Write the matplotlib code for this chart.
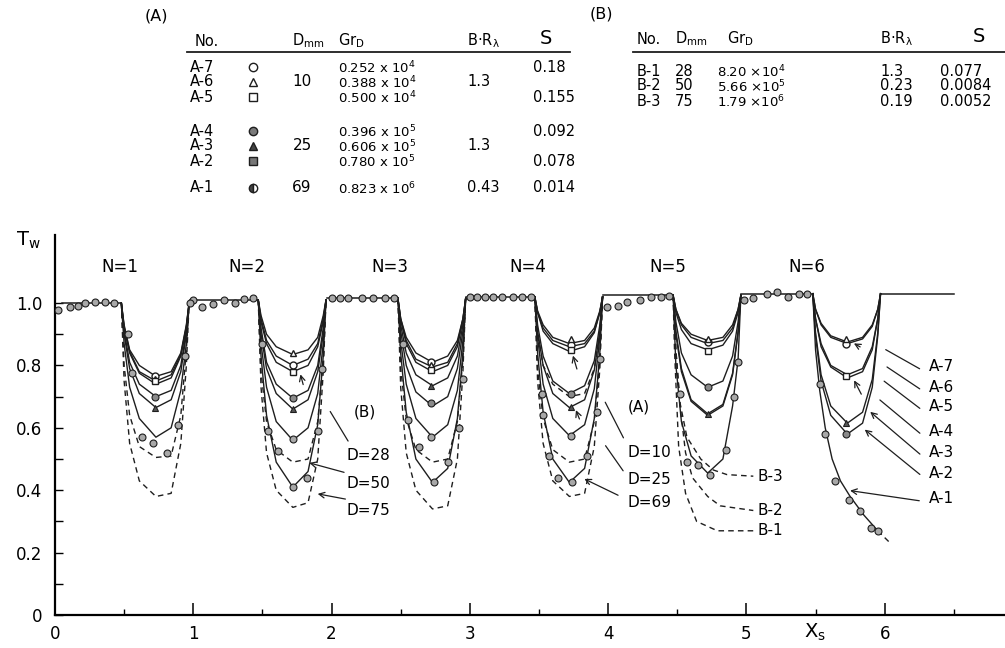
import matplotlib
matplotlib.use("Agg")
import matplotlib.pyplot as plt
from matplotlib.ticker import MultipleLocator, FixedLocator

plt.rcParams['font.family'] = ['DejaVu Sans']
plt.rcParams['mathtext.default'] = 'regular'

# Xs offsets inside each cooled half-period, and where each dip starts
dip_offset = [0.0, 0.02, 0.06, 0.13, 0.25, 0.36, 0.43, 0.47, 0.49]
dip_start = [0.48, 1.47, 2.48, 3.47, 4.47, 5.48]

# theory curves Tw along each dip (solid = series A, dashed = series B)
solid_n1 = [
    [1.0, .93, .85, .80, .765, .78, .84, .93, 1.0],
    [1.0, .925, .845, .78, .75, .77, .835, .925, 1.0],
    [1.0, .92, .84, .775, .74, .76, .83, .92, 1.0],
    [1.0, .91, .81, .74, .70, .72, .80, .91, 1.0],
    [1.0, .90, .79, .71, .665, .69, .78, .90, 1.0],
    [1.0, .87, .73, .63, .57, .60, .72, .87, 1.0],
]
dashed_n1 = [
    [1.0, .80, .64, .54, .505, .51, .64, .85, 1.0],
    [1.0, .75, .55, .43, .38, .39, .55, .80, 1.0],
]
solid_n2 = [
    [1.01, .96, .90, .86, .835, .85, .89, .96, 1.01],
    [1.01, .95, .88, .83, .80, .82, .87, .95, 1.01],
    [1.01, .94, .87, .81, .78, .80, .86, .94, 1.01],
    [1.01, .92, .81, .74, .695, .72, .80, .92, 1.01],
    [1.01, .90, .79, .71, .66, .69, .78, .90, 1.01],
    [1.01, .87, .73, .62, .56, .60, .71, .87, 1.01],
    [1.01, .83, .64, .49, .41, .46, .61, .83, 1.01],
]
dashed_n2 = [
    [1.01, .78, .62, .53, .49, .50, .62, .82, 1.01],
    [1.01, .73, .52, .40, .345, .36, .50, .78, 1.01],
]
solid_n3 = [
    [1.015, .95, .89, .84, .81, .83, .88, .95, 1.015],
    [1.015, .95, .88, .82, .795, .81, .87, .95, 1.015],
    [1.015, .945, .87, .81, .78, .80, .86, .945, 1.015],
    [1.015, .93, .84, .77, .735, .76, .83, .93, 1.015],
    [1.015, .91, .80, .715, .67, .70, .79, .91, 1.015],
    [1.015, .88, .74, .63, .57, .61, .72, .88, 1.015],
    [1.015, .84, .65, .50, .425, .47, .63, .84, 1.015],
]
dashed_n3 = [
    [1.015, .79, .63, .53, .49, .50, .62, .82, 1.015],
    [1.015, .73, .52, .40, .34, .35, .50, .78, 1.015],
]
solid_n4 = [
    [1.02, .975, .93, .89, .87, .88, .92, .975, 1.02],
    [1.02, .97, .92, .88, .86, .87, .91, .97, 1.02],
    [1.02, .97, .91, .87, .845, .86, .905, .97, 1.02],
    [1.02, .93, .83, .75, .71, .735, .815, .93, 1.02],
    [1.02, .91, .80, .71, .665, .69, .785, .91, 1.02],
    [1.02, .89, .74, .63, .575, .61, .725, .89, 1.02],
    [1.02, .84, .65, .50, .425, .47, .63, .84, 1.02],
]
dashed_n4 = [
    [1.02, .90, .80, .74, .70, .71, .79, .90, 1.02],
    [1.02, .79, .63, .53, .49, .50, .62, .82, 1.02],
    [1.02, .75, .55, .43, .38, .39, .54, .79, 1.02],
]
solid_n5 = [
    [1.025, .98, .935, .90, .88, .89, .93, .98, 1.025],
    [1.025, .98, .93, .89, .87, .88, .92, .98, 1.025],
    [1.025, .97, .915, .87, .85, .865, .91, .97, 1.025],
    [1.025, .94, .84, .77, .73, .75, .83, .94, 1.025],
    [1.025, .91, .79, .69, .645, .675, .775, .91, 1.025],
    [1.025, .90, .78, .685, .64, .67, .77, .905, 1.025],
    [1.025, .80, .62, .51, .455, .50, .67, .82, 1.025],
]
dashed_n5 = []
solid_n6 = [
    [1.03, .98, .935, .895, .875, .89, .93, .98, 1.03],
    [1.03, .98, .93, .89, .87, .885, .925, .98, 1.03],
    [1.03, .95, .87, .80, .77, .79, .86, .95, 1.03],
    [1.03, .95, .86, .795, .76, .78, .85, .95, 1.03],
    [1.03, .905, .77, .67, .615, .65, .755, .905, 1.03],
    [1.03, .895, .75, .64, .58, .615, .73, .895, 1.03],
]
dashed_n6 = []

# last runs that do not recover
a1_last_x = [5.48, 5.50, 5.53, 5.57, 5.62, 5.68, 5.75, 5.85, 5.95]
a1_last_y = [1.03, .85, .72, .60, .50, .43, .38, .32, .27]
a1_tail_x = [5.95, 6.03]
a1_tail_y = [.27, .235]
b3_x = [4.47, 4.49, 4.52, 4.57, 4.67, 4.76, 4.86, 5.05]
b3_y = [1.025, .85, .68, .57, .50, .465, .45, .445]
b2_x = [4.47, 4.49, 4.52, 4.56, 4.61, 4.72, 4.81, 5.05]
b2_y = [1.025, .85, .67, .52, .44, .38, .35, .335]
b1_x = [4.47, 4.48, 4.51, 4.56, 4.64, 4.79, 5.05]
b1_y = [1.025, .85, .54, .39, .30, .27, .27]

# uniform-wall (heated) stretches
plateau_x = [[0.05, 0.48], [0.98, 1.47], [1.97, 2.48], [2.97, 3.47],
             [3.96, 4.47], [4.96, 5.48], [5.97, 6.5]]
plateau_y = [1.0, 1.01, 1.015, 1.02, 1.025, 1.03, 1.03]

# measured points
meas_x = [0.02, 0.11, 0.17, 0.22, 0.29, 0.36, 0.43,
          1.0, 1.06, 1.14, 1.22, 1.30, 1.37, 1.43,
          2.0, 2.06, 2.12, 2.22, 2.30, 2.39, 2.45,
          3.0, 3.05, 3.11, 3.17, 3.23, 3.31, 3.38, 3.44,
          3.99, 4.07, 4.14, 4.23, 4.31, 4.38, 4.44,
          4.98, 5.05, 5.15, 5.22, 5.30, 5.38, 5.44,
          0.53, 0.56, 0.63, 0.71, 0.81, 0.89, 0.94, 0.98,
          1.50, 1.54, 1.61, 1.72, 1.72, 1.82, 1.90, 1.93,
          2.52, 2.55, 2.63, 2.72, 2.74, 2.84, 2.92, 2.95,
          3.52, 3.53, 3.57, 3.64, 3.73, 3.74, 3.85, 3.92, 3.94,
          4.52, 4.57, 4.65, 4.74, 4.85, 4.91, 4.94,
          5.53, 5.57, 5.64, 5.74, 5.82, 5.90, 5.95]
meas_y = [0.977, 0.987, 0.99, 1.0, 1.003, 1.003, 1.0,
          1.01, 0.987, 0.997, 1.01, 1.0, 1.013, 1.016,
          1.016, 1.016, 1.016, 1.016, 1.016, 1.016, 1.016,
          1.02, 1.02, 1.02, 1.02, 1.02, 1.02, 1.02, 1.02,
          0.987, 0.99, 1.003, 1.01, 1.02, 1.02, 1.022,
          1.01, 1.016, 1.03, 1.035, 1.02, 1.03, 1.03,
          0.90, 0.775, 0.57, 0.55, 0.52, 0.61, 0.83, 1.0,
          0.87, 0.59, 0.525, 0.565, 0.41, 0.44, 0.59, 0.79,
          0.87, 0.625, 0.54, 0.57, 0.425, 0.49, 0.60, 0.755,
          0.71, 0.64, 0.51, 0.44, 0.575, 0.425, 0.51, 0.65, 0.82,
          0.71, 0.49, 0.48, 0.45, 0.53, 0.70, 0.81,
          0.74, 0.58, 0.43, 0.37, 0.335, 0.28, 0.27]
mark_x = [0.72, 1.72, 2.72, 3.73, 4.72, 5.72]
open_circle_y = [0.765, 0.80, 0.81, 0.865, 0.875, 0.87]
open_tri_y = [0.755, 0.84, 0.80, 0.885, 0.885, 0.885]
open_sq_y = [0.75, 0.78, 0.785, 0.85, 0.845, 0.765]
dot_circle_y = [0.70, 0.695, 0.68, 0.71, 0.73, 0.58]
full_tri_y = [0.665, 0.66, 0.735, 0.667, 0.645, 0.615]

n_labels = ['N=1', 'N=2', 'N=3', 'N=4', 'N=5', 'N=6']
n_label_x = [0.47, 1.39, 2.42, 3.42, 4.43, 5.44]
y_ticks = [0, 0.2, 0.4, 0.6, 0.8, 1.0]
y_tick_labels = ['0', '0.2', '0.4', '0.6', '0.8', '1.0']

# table (A)
a_no = ['A-7', 'A-6', 'A-5', 'A-4', 'A-3', 'A-2', 'A-1']
a_gr = ['0.252 x 10$^4$', '0.388 x 10$^4$', '0.500 x 10$^4$',
        '0.396 x 10$^5$', '0.606 x 10$^5$', '0.780 x 10$^5$', '0.823 x 10$^6$']
a_d = ['', '10', '', '', '25', '', '69']
a_br = ['', '1.3', '', '', '1.3', '', '0.43']
a_s = ['0.18', '', '0.155', '0.092', '', '0.078', '0.014']
# table (B)
b_no = ['B-1', 'B-2', 'B-3']
b_d = ['28', '50', '75']
b_gr = ['8.20 ×10$^4$', '5.66 ×10$^5$', '1.79 ×10$^6$']
b_br = ['1.3', '0.23', '0.19']
b_s = ['0.077', '0.0084', '0.0052']

ink = '#1e1e1e'
fig = plt.figure(figsize=(10.05, 6.48), dpi=100)
ax = fig.add_axes([0.0547, 0.0509, 0.9453, 0.5864])

for x0, x1 in zip(plateau_x, plateau_y):
    ax.plot(x0, [x1, x1], color=ink, lw=1.1)

solids = [solid_n1, solid_n2, solid_n3, solid_n4, solid_n5, solid_n6]
dasheds = [dashed_n1, dashed_n2, dashed_n3, dashed_n4, dashed_n5, dashed_n6]
for k in range(6):
    xs = [dip_start[k] + o for o in dip_offset]
    for ys in solids[k]:
        ax.plot(xs, ys, color=ink, lw=1.0)
    for ys in dasheds[k]:
        ax.plot(xs, ys, color=ink, lw=1.0, ls=(0, (4, 3)))

ax.plot(a1_last_x, a1_last_y, color=ink, lw=1.0)
ax.plot(a1_tail_x, a1_tail_y, color=ink, lw=1.0, ls=(0, (4, 3)))
for bx, by in [(b1_x, b1_y), (b2_x, b2_y), (b3_x, b3_y)]:
    ax.plot(bx, by, color=ink, lw=1.0, ls=(0, (4, 3)))

ms = 5
ax.plot(meas_x, meas_y, 'o', ms=ms, mfc='#a8a8a8', mec=ink, mew=0.8, zorder=4)
ax.plot(mark_x, open_circle_y, 'o', ms=ms, mfc='white', mec=ink, mew=1.0, zorder=5)
ax.plot(mark_x, open_tri_y, '^', ms=ms, mfc='white', mec=ink, mew=1.0, zorder=5)
ax.plot(mark_x, open_sq_y, 's', ms=ms - 0.5, mfc='white', mec=ink, mew=1.0, zorder=5)
ax.plot(mark_x, dot_circle_y, 'o', ms=ms, mfc='#8a8a8a', mec=ink, mew=0.8, zorder=5)
ax.plot(mark_x, full_tri_y, '^', ms=ms, mfc='#555555', mec=ink, mew=0.8, zorder=5)

for lab, x in zip(n_labels, n_label_x):
    ax.text(x, 1.115, lab, ha='center', va='center', fontsize=12)

lab_kw = dict(fontsize=11, va='center', ha='left')
ln = dict(arrowstyle='-', color=ink, lw=0.9)
arr = dict(arrowstyle='->', color=ink, lw=0.9)
ax.text(2.24, 0.65, '(B)', fontsize=11, va='center', ha='center')
ax.text(2.11, 0.51, 'D=28', **lab_kw)
ax.text(2.11, 0.42, 'D=50', **lab_kw)
ax.text(2.11, 0.335, 'D=75', **lab_kw)
ax.annotate('', xy=(1.98, 0.66), xytext=(2.13, 0.55), arrowprops=ln)
ax.annotate('', xy=(1.82, 0.49), xytext=(2.11, 0.455), arrowprops=arr)
ax.annotate('', xy=(1.88, 0.39), xytext=(2.12, 0.37), arrowprops=arr)

ax.text(4.22, 0.667, '(A)', fontsize=11, va='center', ha='center')
ax.text(4.14, 0.52, 'D=10', **lab_kw)
ax.text(4.14, 0.435, 'D=25', **lab_kw)
ax.text(4.14, 0.36, 'D=69', **lab_kw)
ax.annotate('', xy=(3.97, 0.69), xytext=(4.12, 0.56), arrowprops=ln)
ax.annotate('', xy=(3.97, 0.55), xytext=(4.12, 0.455), arrowprops=ln)
ax.annotate('', xy=(3.81, 0.44), xytext=(4.09, 0.38), arrowprops=arr)

ax.text(5.08, 0.445, 'B-3', **lab_kw)
ax.text(5.08, 0.335, 'B-2', **lab_kw)
ax.text(5.08, 0.27, 'B-1', **lab_kw)

a_lab_y = [0.795, 0.73, 0.667, 0.587, 0.52, 0.455, 0.375]
a_tip = [(5.99, 0.855), (6.0, 0.80), (5.98, 0.755), (5.95, 0.695),
         (5.88, 0.657), (5.84, 0.60), (5.73, 0.40)]
for i, (lab, y) in enumerate(zip(a_no, a_lab_y)):
    ax.text(6.32, y, lab, **lab_kw)
    ax.annotate('', xy=a_tip[i], xytext=(6.27, y - 0.01),
                arrowprops=arr if i >= 4 else ln)

for tip, tail in [((1.77, 0.78), (1.80, 0.73)), ((3.74, 0.84), (3.78, 0.78)),
                  ((3.76, 0.665), (3.80, 0.62)), ((5.76, 0.875), (5.84, 0.855)),
                  ((5.77, 0.76), (5.84, 0.70))]:
    ax.annotate('', xy=tip, xytext=tail, arrowprops=arr)

ax.set_xlim(0, 6.87)
ax.set_ylim(0, 1.218)
ax.spines['top'].set_visible(False)
ax.spines['right'].set_visible(False)
ax.spines['left'].set_linewidth(1.6)
ax.spines['bottom'].set_linewidth(1.6)
ax.xaxis.set_major_locator(MultipleLocator(1))
ax.xaxis.set_minor_locator(MultipleLocator(0.5))
ax.yaxis.set_major_locator(FixedLocator(y_ticks))
ax.yaxis.set_minor_locator(FixedLocator([0.1, 0.3, 0.5, 0.7, 0.9]))
ax.set_yticklabels(y_tick_labels)
ax.tick_params(axis='x', which='major', direction='in', length=9, width=1.1,
               labelsize=12, pad=7)
ax.tick_params(axis='x', which='minor', direction='in', length=4, width=1.0)
ax.tick_params(axis='y', which='both', direction='in', length=6, width=1.0,
               labelsize=12, pad=9)

fig.text(28 / 1005, 1 - 240 / 648, 'T$_w$', fontsize=14, ha='center', va='center')
fig.text(815 / 1005, 1 - 632 / 648, 'X$_s$', fontsize=14, ha='center', va='center')

# tables drawn in pixel coordinates on an overlay
tab = fig.add_axes([0, 0, 1, 1])
tab.set_xlim(0, 1005)
tab.set_ylim(648, 0)
tab.axis('off')
tk = dict(fontsize=9.5, va='center', ha='left')
tab.text(145, 16, '(A)', fontsize=11.5, va='center')
tab.text(195, 41, 'No.', fontsize=10.5, va='center')
tab.text(292, 41, 'D$_{mm}$', fontsize=10.5, va='center')
tab.text(338, 41, 'Gr$_D$', fontsize=10.5, va='center')
tab.text(467, 41, 'B·R$_λ$', fontsize=10.5, va='center')
tab.text(540, 39, 'S', fontsize=14, va='center')
tab.plot([187, 570], [52, 52], color=ink, lw=1.3)
row_y = [67, 82, 97, 131, 146, 161, 188]
for i in range(7):
    y = row_y[i]
    tab.text(190, y, a_no[i], fontsize=10.5, va='center')
    tab.text(302, y, a_d[i], fontsize=11, va='center', ha='center')
    tab.text(338, y + 1, a_gr[i], **tk)
    tab.text(467, y, a_br[i], fontsize=10.5, va='center')
    tab.text(533, y, a_s[i], fontsize=10.5, va='center')
mk = dict(ms=6, mec=ink, mew=1.0)
tab.plot([253], [row_y[0]], 'o', mfc='white', **mk)
tab.plot([253], [row_y[1]], '^', mfc='white', **mk)
tab.plot([253], [row_y[2]], 's', mfc='white', **mk)
tab.plot([253], [row_y[3]], 'o', mfc='#7a7a7a', **mk)
tab.plot([253], [row_y[4]], '^', mfc='#444444', **mk)
tab.plot([253], [row_y[5]], 's', mfc='#777777', **mk)
tab.plot([253], [row_y[6]], 'o', mfc='#444444', fillstyle='left',
         mfcalt='white', **mk)

tab.text(590, 14, '(B)', fontsize=11.5, va='center')
tab.text(637, 39, 'No.', fontsize=10.5, va='center')
tab.text(675, 39, 'D$_{mm}$', fontsize=10.5, va='center')
tab.text(727, 39, 'Gr$_D$', fontsize=10.5, va='center')
tab.text(880, 39, 'B·R$_λ$', fontsize=10.5, va='center')
tab.text(973, 37, 'S', fontsize=14, va='center')
tab.plot([633, 1005], [52, 52], color=ink, lw=1.3)
for i, y in enumerate([71, 86, 101]):
    tab.text(637, y, b_no[i], fontsize=10.5, va='center')
    tab.text(675, y, b_d[i], fontsize=10.5, va='center')
    tab.text(717, y + 1, b_gr[i], **tk)
    tab.text(880, y, b_br[i], fontsize=10.5, va='center')
    tab.text(940, y, b_s[i], fontsize=10.5, va='center')

fig.savefig('out.png', dpi=100)
